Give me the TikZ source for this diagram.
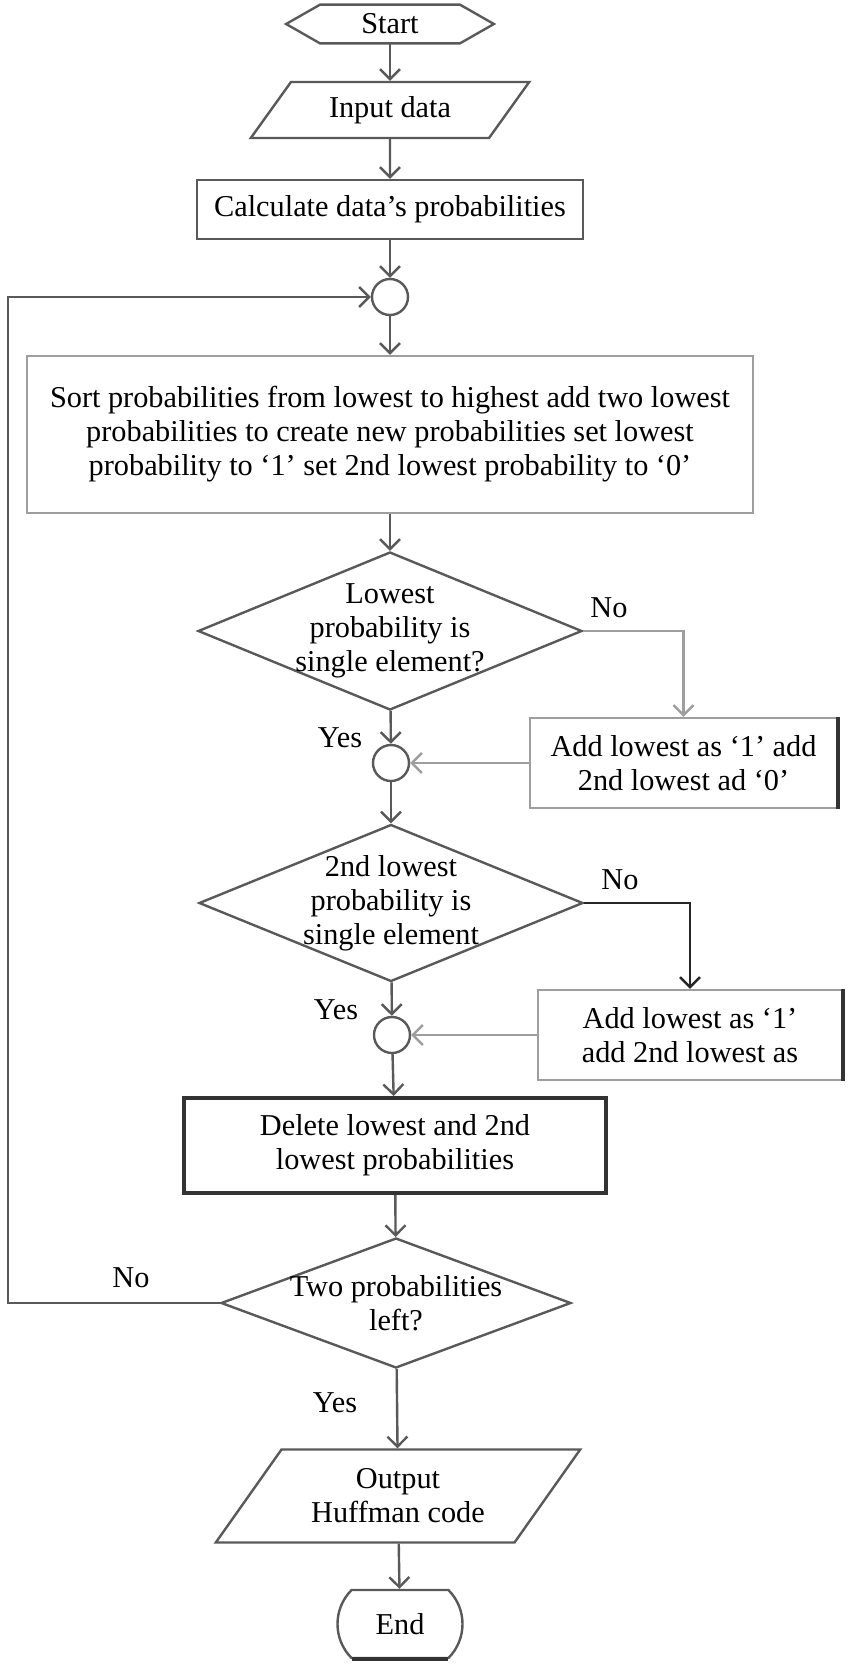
\documentclass[tikz,border=0pt]{standalone}
\usepackage{fontspec}
\setmainfont{Liberation Serif}
\usepackage{tikz}
\usetikzlibrary{shapes.geometric,shapes.misc,arrows.meta}
\definecolor{edgegray}{gray}{0.35}
\definecolor{softgray}{gray}{0.62}

\begin{document}
\begin{tikzpicture}[x=0.5pt,y=-0.5pt]
    \tikzstyle{every node}=[font=\fontsize{15.15pt}{17pt}\selectfont,align=center]
    \tikzstyle{procbox}=[rectangle,draw=edgegray,line width=1.2pt,inner sep=0pt]
    \tikzstyle{iobox}=[trapezium,trapezium left angle=48,trapezium right angle=132,trapezium stretches=true,draw=edgegray,line width=1.2pt,inner sep=0pt]
    \tikzstyle{decision}=[diamond,draw=edgegray,line width=1.2pt,inner sep=-8pt]
    \tikzstyle{joint}=[circle,draw=edgegray,line width=1.2pt,minimum size=18pt,inner sep=0pt]
    \tikzstyle{flow}=[draw=edgegray,line width=1.2pt,-{Straight Barb[length=5pt,width=10pt]}]
    \tikzstyle{weak}=[draw=softgray]
    \tikzstyle{darkedge}=[draw=black!80,line width=2pt]

    \useasboundingbox (0,0) rectangle (850,1666);

    \node[minimum width=103.5pt,minimum height=19pt,inner sep=0pt] (start) at (390,24) {Start};
    \draw[draw=edgegray,line width=1.2pt] (start.west) -- ([xshift=17pt]start.north west) -- ([xshift=-17pt]start.north east) -- (start.east) -- ([xshift=-17pt]start.south east) -- ([xshift=17pt]start.south west) -- cycle;

    \node[iobox,minimum width=140pt,minimum height=28pt] (inputdata) at (390,110) {Input data};
    \node[procbox,minimum width=193pt,minimum height=29.5pt] (calcprob) at (390,209.5) {Calculate data's probabilities};
    \node[joint] (joinone) at (390,297) {};
    \node[procbox,draw=softgray,minimum width=363pt,minimum height=78.5pt] (sortprob) at (390,434.5) {Sort probabilities from lowest to highest add two lowest\\probabilities to create new probabilities set lowest\\probability to `1' set 2nd lowest probability to `0'};
    \node[decision,aspect=2.43,minimum width=192pt,minimum height=79pt] (lowestsingle) at (390,631) {Lowest\\probability is\\single element?};
    \node[procbox,draw=softgray,minimum width=153.5pt,minimum height=45pt] (addfirst) at (683.5,763) {Add lowest as `1' add\\2nd lowest ad `0'};
    \draw[darkedge] (addfirst.north east) -- (addfirst.south east);
    \node[joint] (jointwo) at (391,763) {};
    \node[decision,aspect=2.43,minimum width=192pt,minimum height=78.5pt] (secondsingle) at (391,903) {2nd lowest\\probability is\\single element};
    \node[procbox,draw=softgray,minimum width=152pt,minimum height=45pt] (addsecond) at (690,1035) {Add lowest as `1'\\add 2nd lowest as};
    \draw[darkedge] (addsecond.north east) -- (addsecond.south east);
    \node[joint] (jointhree) at (392,1035) {};
    \node[procbox,draw=black!80,line width=2pt,minimum width=211pt,minimum height=47.5pt] (deletelow) at (395,1145.5) {Delete lowest and 2nd\\lowest probabilities};
    \node[decision,aspect=2.7,minimum width=175pt,minimum height=65pt] (twoleft) at (396,1303) {Two probabilities\\left?};
    \node[iobox,minimum width=182.5pt,minimum height=46.5pt] (outputcode) at (398,1496) {Output\\Huffman code};
    \node[rounded rectangle,rounded rectangle arc length=90,draw=edgegray,line width=1.2pt,minimum width=62.5pt,minimum height=34pt,inner sep=0pt] (finish) at (400,1624) {End};
    \draw[line width=2.2pt,draw=black!80] ([xshift=-24pt]finish.south) -- ([xshift=24pt]finish.south);

    \node (nofirst) at (609,608) {No};
    \node (yesfirst) at (340,738) {Yes};
    \node (nosecond) at (620,880) {No};
    \node (yessecond) at (336,1010) {Yes};
    \node (nothird) at (131,1278) {No};
    \node (yesthird) at (335,1403) {Yes};

    \coordinate (loopcorner) at (8,1303);

    \draw[flow] (start) -- (inputdata);
    \draw[flow] (inputdata) -- (calcprob);
    \draw[flow] (calcprob) -- (joinone);
    \draw[flow] (joinone) -- (sortprob);
    \draw[flow] (sortprob) -- (lowestsingle);
    \draw[flow,weak] (lowestsingle.east) -| (addfirst.north);
    \draw[flow] (lowestsingle) -- (jointwo);
    \draw[flow,weak] (addfirst) -- (jointwo);
    \draw[flow] (jointwo) -- (secondsingle);
    \draw[flow,draw=black!85] (secondsingle.east) -| (addsecond.north);
    \draw[flow] (secondsingle) -- (jointhree);
    \draw[flow,weak] (addsecond) -- (jointhree);
    \draw[flow] (jointhree) -- (deletelow);
    \draw[flow] (deletelow) -- (twoleft);
    \draw[flow] (twoleft.west) -- (loopcorner) |- (joinone.west);
    \draw[flow] (twoleft) -- (outputcode);
    \draw[flow] (outputcode) -- (finish);

\end{tikzpicture}
\end{document}
